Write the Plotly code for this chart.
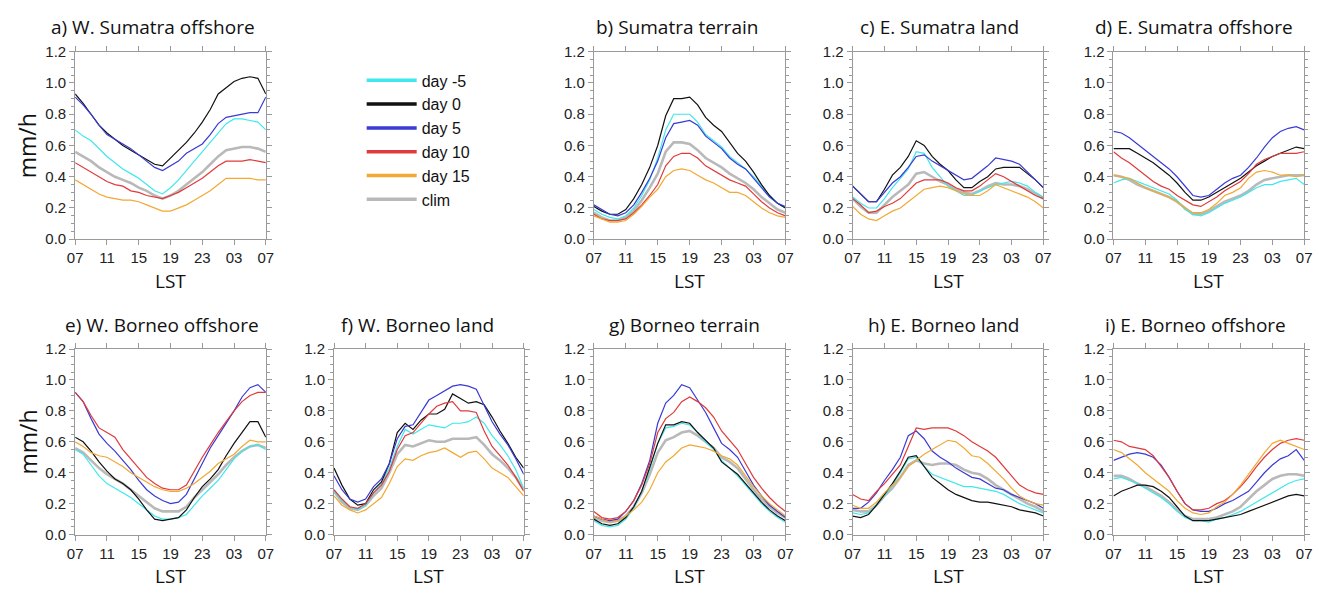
import plotly.graph_objects as go

# ---------------- data ----------------
hours = list(range(25))                      # 07 LST .. 07 LST next day
tick_vals = [0, 4, 8, 12, 16, 20, 24]
tick_text = ["07", "11", "15", "19", "23", "03", "07"]
y_ticks = [0.0, 0.2, 0.4, 0.6, 0.8, 1.0, 1.2]
y_tick_text = ["0.0", "0.2", "0.4", "0.6", "0.8", "1.0", "1.2"]

series_names = ["day -5", "day 0", "day 5", "day 10", "day 15", "clim"]
series_colors = ["#3ee8ec", "#111111", "#3a3ad6", "#e03a3a", "#f2a833", "#b9b9b9"]

panel_titles = ["a) W. Sumatra offshore", "b) Sumatra terrain", "c) E. Sumatra land",
                "d) E. Sumatra offshore", "e) W. Borneo offshore", "f) W. Borneo land",
                "g) Borneo terrain", "h) E. Borneo land", "i) E. Borneo offshore"]

# a) W. Sumatra offshore
a_dm5 = [0.70, 0.66, 0.63, 0.58, 0.53, 0.49, 0.45, 0.42, 0.39, 0.35, 0.31, 0.29, 0.33, 0.38, 0.44, 0.50, 0.56, 0.62, 0.68, 0.74, 0.77, 0.77, 0.76, 0.75, 0.70]
a_d0 = [0.93, 0.87, 0.80, 0.73, 0.68, 0.64, 0.60, 0.57, 0.54, 0.51, 0.48, 0.47, 0.52, 0.57, 0.62, 0.68, 0.75, 0.83, 0.93, 0.97, 1.01, 1.03, 1.04, 1.03, 0.93]
a_d5 = [0.91, 0.86, 0.80, 0.73, 0.67, 0.64, 0.61, 0.58, 0.54, 0.50, 0.46, 0.44, 0.47, 0.50, 0.55, 0.58, 0.61, 0.67, 0.74, 0.78, 0.79, 0.80, 0.81, 0.81, 0.91]
a_d10 = [0.49, 0.46, 0.43, 0.40, 0.37, 0.35, 0.34, 0.31, 0.30, 0.28, 0.27, 0.26, 0.28, 0.30, 0.33, 0.36, 0.39, 0.43, 0.47, 0.50, 0.50, 0.50, 0.51, 0.50, 0.49]
a_d15 = [0.38, 0.35, 0.32, 0.29, 0.27, 0.26, 0.25, 0.25, 0.24, 0.22, 0.20, 0.18, 0.18, 0.20, 0.22, 0.25, 0.28, 0.31, 0.35, 0.39, 0.39, 0.39, 0.39, 0.38, 0.38]
a_clim = [0.56, 0.53, 0.50, 0.46, 0.43, 0.40, 0.38, 0.36, 0.33, 0.31, 0.28, 0.26, 0.28, 0.31, 0.35, 0.39, 0.43, 0.48, 0.53, 0.57, 0.58, 0.59, 0.59, 0.58, 0.56]

# b) Sumatra terrain
b_dm5 = [0.19, 0.16, 0.14, 0.13, 0.15, 0.20, 0.28, 0.38, 0.52, 0.70, 0.80, 0.80, 0.80, 0.75, 0.67, 0.63, 0.59, 0.53, 0.49, 0.45, 0.40, 0.34, 0.28, 0.23, 0.20]
b_d0 = [0.21, 0.18, 0.16, 0.16, 0.19, 0.26, 0.35, 0.46, 0.60, 0.79, 0.90, 0.90, 0.91, 0.86, 0.78, 0.73, 0.69, 0.62, 0.55, 0.50, 0.43, 0.35, 0.28, 0.23, 0.20]
b_d5 = [0.22, 0.19, 0.16, 0.15, 0.17, 0.22, 0.30, 0.39, 0.50, 0.65, 0.74, 0.75, 0.76, 0.73, 0.66, 0.62, 0.58, 0.52, 0.48, 0.45, 0.39, 0.33, 0.27, 0.23, 0.21]
b_d10 = [0.16, 0.13, 0.12, 0.12, 0.13, 0.17, 0.22, 0.28, 0.35, 0.47, 0.53, 0.55, 0.55, 0.52, 0.47, 0.44, 0.41, 0.38, 0.36, 0.34, 0.29, 0.24, 0.20, 0.17, 0.15]
b_d15 = [0.15, 0.13, 0.11, 0.11, 0.12, 0.16, 0.21, 0.27, 0.32, 0.40, 0.44, 0.45, 0.44, 0.41, 0.38, 0.36, 0.33, 0.30, 0.30, 0.28, 0.24, 0.20, 0.17, 0.15, 0.14]
b_clim = [0.17, 0.14, 0.12, 0.12, 0.14, 0.18, 0.25, 0.33, 0.42, 0.56, 0.62, 0.62, 0.61, 0.57, 0.52, 0.49, 0.46, 0.42, 0.39, 0.36, 0.32, 0.27, 0.23, 0.19, 0.17]

# c) E. Sumatra land
c_dm5 = [0.27, 0.23, 0.20, 0.20, 0.26, 0.33, 0.39, 0.45, 0.56, 0.55, 0.46, 0.40, 0.34, 0.31, 0.28, 0.28, 0.31, 0.33, 0.35, 0.36, 0.37, 0.36, 0.34, 0.30, 0.27]
c_d0 = [0.34, 0.29, 0.24, 0.24, 0.32, 0.41, 0.46, 0.53, 0.63, 0.60, 0.53, 0.48, 0.44, 0.38, 0.33, 0.33, 0.37, 0.40, 0.45, 0.46, 0.46, 0.46, 0.42, 0.38, 0.33]
c_d5 = [0.34, 0.29, 0.24, 0.24, 0.30, 0.36, 0.40, 0.46, 0.53, 0.54, 0.50, 0.47, 0.44, 0.41, 0.38, 0.39, 0.43, 0.47, 0.52, 0.51, 0.50, 0.48, 0.43, 0.38, 0.33]
c_d10 = [0.26, 0.22, 0.17, 0.18, 0.21, 0.23, 0.26, 0.31, 0.36, 0.38, 0.38, 0.38, 0.36, 0.33, 0.31, 0.31, 0.34, 0.38, 0.42, 0.40, 0.37, 0.34, 0.31, 0.28, 0.26]
c_d15 = [0.21, 0.16, 0.13, 0.12, 0.15, 0.18, 0.20, 0.24, 0.28, 0.32, 0.33, 0.34, 0.33, 0.31, 0.29, 0.28, 0.28, 0.31, 0.35, 0.33, 0.31, 0.29, 0.27, 0.24, 0.20]
c_clim = [0.26, 0.21, 0.17, 0.17, 0.22, 0.27, 0.31, 0.35, 0.42, 0.43, 0.40, 0.37, 0.35, 0.32, 0.30, 0.29, 0.31, 0.34, 0.36, 0.35, 0.35, 0.34, 0.32, 0.29, 0.26]

# d) E. Sumatra offshore
d_dm5 = [0.36, 0.38, 0.39, 0.37, 0.35, 0.33, 0.31, 0.29, 0.25, 0.19, 0.16, 0.15, 0.17, 0.20, 0.23, 0.25, 0.27, 0.30, 0.33, 0.35, 0.35, 0.37, 0.38, 0.39, 0.35]
d_d0 = [0.58, 0.58, 0.58, 0.55, 0.52, 0.49, 0.45, 0.41, 0.36, 0.30, 0.25, 0.25, 0.27, 0.30, 0.33, 0.36, 0.39, 0.43, 0.47, 0.50, 0.53, 0.55, 0.57, 0.59, 0.58]
d_d5 = [0.69, 0.68, 0.65, 0.61, 0.57, 0.53, 0.49, 0.45, 0.40, 0.34, 0.28, 0.27, 0.28, 0.32, 0.36, 0.39, 0.41, 0.46, 0.52, 0.59, 0.65, 0.69, 0.71, 0.72, 0.70]
d_d10 = [0.56, 0.52, 0.49, 0.45, 0.41, 0.37, 0.34, 0.32, 0.28, 0.25, 0.22, 0.21, 0.24, 0.27, 0.31, 0.34, 0.37, 0.42, 0.48, 0.51, 0.53, 0.55, 0.55, 0.55, 0.56]
d_d15 = [0.41, 0.40, 0.39, 0.36, 0.33, 0.31, 0.29, 0.27, 0.24, 0.20, 0.17, 0.17, 0.19, 0.23, 0.28, 0.30, 0.33, 0.39, 0.43, 0.44, 0.43, 0.41, 0.41, 0.40, 0.41]
d_clim = [0.41, 0.40, 0.38, 0.35, 0.33, 0.31, 0.29, 0.27, 0.24, 0.20, 0.16, 0.16, 0.18, 0.21, 0.24, 0.26, 0.28, 0.31, 0.35, 0.38, 0.39, 0.40, 0.41, 0.41, 0.41]

# e) W. Borneo offshore
e_dm5 = [0.55, 0.52, 0.45, 0.38, 0.33, 0.30, 0.27, 0.24, 0.20, 0.16, 0.12, 0.10, 0.10, 0.11, 0.13, 0.19, 0.25, 0.30, 0.35, 0.42, 0.49, 0.54, 0.57, 0.58, 0.55]
e_d0 = [0.63, 0.60, 0.54, 0.47, 0.41, 0.36, 0.33, 0.29, 0.23, 0.16, 0.10, 0.09, 0.10, 0.11, 0.16, 0.24, 0.31, 0.36, 0.42, 0.51, 0.59, 0.66, 0.73, 0.73, 0.63]
e_d5 = [0.92, 0.86, 0.75, 0.65, 0.59, 0.54, 0.48, 0.42, 0.35, 0.29, 0.25, 0.22, 0.20, 0.21, 0.26, 0.36, 0.47, 0.56, 0.64, 0.72, 0.80, 0.89, 0.95, 0.97, 0.92]
e_d10 = [0.92, 0.86, 0.77, 0.69, 0.66, 0.63, 0.55, 0.49, 0.43, 0.37, 0.33, 0.30, 0.29, 0.29, 0.32, 0.41, 0.50, 0.58, 0.66, 0.73, 0.80, 0.86, 0.90, 0.92, 0.92]
e_d15 = [0.60, 0.57, 0.53, 0.51, 0.50, 0.47, 0.44, 0.40, 0.37, 0.34, 0.31, 0.29, 0.28, 0.28, 0.30, 0.33, 0.37, 0.41, 0.46, 0.49, 0.52, 0.57, 0.61, 0.60, 0.60]
e_clim = [0.56, 0.53, 0.48, 0.43, 0.39, 0.36, 0.33, 0.29, 0.25, 0.21, 0.17, 0.15, 0.15, 0.15, 0.18, 0.24, 0.29, 0.34, 0.39, 0.45, 0.50, 0.54, 0.57, 0.58, 0.56]

# f) W. Borneo land
f_dm5 = [0.28, 0.22, 0.18, 0.16, 0.19, 0.27, 0.33, 0.43, 0.57, 0.68, 0.65, 0.68, 0.71, 0.70, 0.69, 0.72, 0.72, 0.73, 0.76, 0.72, 0.64, 0.58, 0.51, 0.42, 0.30]
f_d0 = [0.43, 0.32, 0.23, 0.19, 0.20, 0.29, 0.34, 0.46, 0.66, 0.72, 0.68, 0.74, 0.78, 0.78, 0.81, 0.91, 0.88, 0.85, 0.86, 0.84, 0.76, 0.67, 0.59, 0.50, 0.43]
f_d5 = [0.38, 0.29, 0.23, 0.21, 0.23, 0.31, 0.36, 0.46, 0.62, 0.70, 0.71, 0.79, 0.87, 0.90, 0.93, 0.96, 0.97, 0.96, 0.94, 0.84, 0.73, 0.65, 0.58, 0.49, 0.39]
f_d10 = [0.29, 0.23, 0.18, 0.17, 0.20, 0.27, 0.32, 0.41, 0.55, 0.64, 0.66, 0.72, 0.78, 0.83, 0.85, 0.86, 0.80, 0.80, 0.79, 0.67, 0.57, 0.51, 0.45, 0.37, 0.28]
f_d15 = [0.25, 0.19, 0.16, 0.14, 0.16, 0.20, 0.24, 0.33, 0.44, 0.49, 0.48, 0.51, 0.53, 0.54, 0.56, 0.53, 0.50, 0.53, 0.54, 0.49, 0.43, 0.40, 0.37, 0.31, 0.25]
f_clim = [0.28, 0.21, 0.17, 0.16, 0.19, 0.25, 0.30, 0.40, 0.52, 0.58, 0.57, 0.59, 0.61, 0.60, 0.60, 0.62, 0.62, 0.62, 0.63, 0.58, 0.52, 0.48, 0.43, 0.37, 0.29]

# g) Borneo terrain
g_dm5 = [0.09, 0.06, 0.05, 0.06, 0.10, 0.17, 0.28, 0.42, 0.59, 0.69, 0.70, 0.72, 0.71, 0.66, 0.60, 0.55, 0.48, 0.43, 0.38, 0.32, 0.26, 0.20, 0.15, 0.11, 0.08]
g_d0 = [0.10, 0.07, 0.06, 0.07, 0.11, 0.18, 0.28, 0.43, 0.59, 0.71, 0.71, 0.73, 0.72, 0.66, 0.61, 0.56, 0.47, 0.43, 0.39, 0.33, 0.27, 0.21, 0.16, 0.12, 0.09]
g_d5 = [0.12, 0.10, 0.09, 0.10, 0.15, 0.22, 0.33, 0.48, 0.72, 0.85, 0.90, 0.97, 0.95, 0.87, 0.79, 0.69, 0.59, 0.55, 0.50, 0.41, 0.32, 0.25, 0.19, 0.15, 0.11]
g_d10 = [0.15, 0.11, 0.10, 0.11, 0.15, 0.22, 0.32, 0.46, 0.66, 0.75, 0.79, 0.86, 0.89, 0.86, 0.82, 0.76, 0.67, 0.61, 0.55, 0.46, 0.37, 0.30, 0.24, 0.19, 0.15]
g_d15 = [0.12, 0.10, 0.08, 0.09, 0.12, 0.16, 0.21, 0.29, 0.40, 0.47, 0.51, 0.56, 0.58, 0.57, 0.56, 0.54, 0.51, 0.49, 0.45, 0.38, 0.31, 0.25, 0.20, 0.16, 0.12]
g_clim = [0.11, 0.09, 0.08, 0.09, 0.12, 0.18, 0.27, 0.39, 0.53, 0.61, 0.63, 0.66, 0.67, 0.64, 0.60, 0.56, 0.50, 0.47, 0.43, 0.36, 0.29, 0.23, 0.18, 0.14, 0.11]

# h) E. Borneo land
h_dm5 = [0.14, 0.13, 0.14, 0.19, 0.25, 0.32, 0.40, 0.49, 0.50, 0.44, 0.39, 0.37, 0.35, 0.33, 0.31, 0.31, 0.30, 0.29, 0.28, 0.26, 0.23, 0.20, 0.18, 0.16, 0.14]
h_d0 = [0.12, 0.11, 0.13, 0.19, 0.26, 0.33, 0.41, 0.50, 0.51, 0.44, 0.37, 0.33, 0.29, 0.26, 0.24, 0.22, 0.21, 0.21, 0.20, 0.19, 0.18, 0.16, 0.15, 0.14, 0.12]
h_d5 = [0.17, 0.17, 0.21, 0.27, 0.35, 0.42, 0.50, 0.64, 0.67, 0.62, 0.54, 0.50, 0.47, 0.43, 0.40, 0.37, 0.36, 0.33, 0.30, 0.29, 0.26, 0.24, 0.22, 0.20, 0.17]
h_d10 = [0.26, 0.23, 0.22, 0.28, 0.33, 0.39, 0.45, 0.57, 0.69, 0.68, 0.69, 0.69, 0.69, 0.67, 0.64, 0.60, 0.57, 0.54, 0.50, 0.44, 0.38, 0.32, 0.29, 0.27, 0.26]
h_d15 = [0.19, 0.17, 0.17, 0.21, 0.27, 0.32, 0.37, 0.44, 0.48, 0.52, 0.55, 0.58, 0.61, 0.60, 0.56, 0.51, 0.50, 0.46, 0.41, 0.36, 0.30, 0.25, 0.22, 0.20, 0.19]
h_clim = [0.16, 0.15, 0.15, 0.19, 0.25, 0.30, 0.37, 0.45, 0.48, 0.46, 0.45, 0.46, 0.46, 0.45, 0.42, 0.40, 0.39, 0.36, 0.32, 0.29, 0.26, 0.23, 0.20, 0.18, 0.15]

# i) E. Borneo offshore
i_dm5 = [0.36, 0.37, 0.35, 0.33, 0.30, 0.27, 0.24, 0.20, 0.15, 0.11, 0.09, 0.09, 0.08, 0.10, 0.11, 0.13, 0.15, 0.18, 0.21, 0.24, 0.27, 0.30, 0.33, 0.35, 0.36]
i_d0 = [0.25, 0.28, 0.30, 0.32, 0.32, 0.31, 0.28, 0.24, 0.18, 0.12, 0.09, 0.09, 0.09, 0.10, 0.11, 0.12, 0.13, 0.15, 0.17, 0.19, 0.21, 0.23, 0.25, 0.26, 0.25]
i_d5 = [0.48, 0.50, 0.52, 0.53, 0.52, 0.50, 0.45, 0.37, 0.28, 0.20, 0.16, 0.15, 0.15, 0.17, 0.20, 0.22, 0.25, 0.28, 0.34, 0.40, 0.45, 0.49, 0.51, 0.55, 0.48]
i_d10 = [0.61, 0.60, 0.57, 0.56, 0.55, 0.51, 0.44, 0.37, 0.28, 0.20, 0.16, 0.16, 0.17, 0.20, 0.22, 0.26, 0.31, 0.37, 0.44, 0.50, 0.55, 0.59, 0.61, 0.62, 0.61]
i_d15 = [0.55, 0.53, 0.49, 0.45, 0.40, 0.36, 0.32, 0.28, 0.22, 0.17, 0.14, 0.13, 0.14, 0.18, 0.21, 0.26, 0.32, 0.39, 0.46, 0.53, 0.59, 0.61, 0.59, 0.57, 0.55]
i_clim = [0.38, 0.38, 0.36, 0.33, 0.31, 0.28, 0.25, 0.21, 0.16, 0.12, 0.10, 0.10, 0.10, 0.11, 0.13, 0.15, 0.18, 0.23, 0.28, 0.32, 0.36, 0.38, 0.39, 0.39, 0.38]

panels = [
    [a_dm5, a_d0, a_d5, a_d10, a_d15, a_clim],
    [b_dm5, b_d0, b_d5, b_d10, b_d15, b_clim],
    [c_dm5, c_d0, c_d5, c_d10, c_d15, c_clim],
    [d_dm5, d_d0, d_d5, d_d10, d_d15, d_clim],
    [e_dm5, e_d0, e_d5, e_d10, e_d15, e_clim],
    [f_dm5, f_d0, f_d5, f_d10, f_d15, f_clim],
    [g_dm5, g_d0, g_d5, g_d10, g_d15, g_clim],
    [h_dm5, h_d0, h_d5, h_d10, h_d15, h_clim],
    [i_dm5, i_d0, i_d5, i_d10, i_d15, i_clim],
]

# ---------------- layout geometry (pixels) ----------------
W, H = 1325, 597
col_px = [(68, 261), (330, 522), (593, 787), (855, 1048), (1119, 1312)]
row_px = [(44, 237), (350, 541)]
panel_cell = [(0, 0), (0, 2), (0, 3), (0, 4), (1, 0), (1, 1), (1, 2), (1, 3), (1, 4)]
title_cx = [147, 677, 943, 1201, 156, 414, 685, 947, 1202]
title_cy = [19, 19, 19, 19, 325, 325, 325, 325, 325]

TITLE_FONT = "Open Sans"
TICK_FONT = "Liberation Sans"
AX_COLOR = "#9a9a9a"

fig = go.Figure()
annotations = []
layout = {}

draw_order = [5, 0, 1, 2, 3, 4]
for p, data in enumerate(panels):
    r, c = panel_cell[p]
    x0, x1 = col_px[c]
    y0, y1 = row_px[r]
    n = p + 1
    xa = "x" if n == 1 else f"x{n}"
    ya = "y" if n == 1 else f"y{n}"
    for s in draw_order:
        fig.add_trace(go.Scatter(
            x=hours, y=data[s], mode="lines", xaxis=xa, yaxis=ya,
            line=dict(color=series_colors[s], width=2.6 if s == 5 else 1.2),
            showlegend=False, hoverinfo="skip"))
    layout["xaxis" if n == 1 else f"xaxis{n}"] = dict(
        domain=[x0 / W, x1 / W], anchor=ya, range=[0, 24],
        tickvals=tick_vals, ticktext=tick_text, ticks="outside", ticklen=5,
        tickcolor=AX_COLOR, showline=True, linecolor=AX_COLOR, linewidth=1,
        mirror="ticks", showgrid=False, zeroline=False,
        tickfont=dict(family=TICK_FONT, size=15, color="#222"))
    layout["yaxis" if n == 1 else f"yaxis{n}"] = dict(
        domain=[1 - y1 / H, 1 - y0 / H], anchor=xa, range=[0, 1.2],
        tickvals=y_ticks, ticktext=y_tick_text, ticks="outside", ticklen=5,
        tickcolor=AX_COLOR, showline=True, linecolor=AX_COLOR, linewidth=1,
        mirror="ticks", showgrid=False, zeroline=False,
        minor=dict(dtick=0.05, ticks="outside", ticklen=3, tickcolor=AX_COLOR, showgrid=False),
        tickfont=dict(family=TICK_FONT, size=15, color="#222"))
    annotations.append(dict(
        text=panel_titles[p], x=title_cx[p] / W, y=1 - title_cy[p] / H,
        xref="paper", yref="paper", xanchor="center", yanchor="middle",
        showarrow=False, font=dict(family=TITLE_FONT, size=19, color="#111")))
    annotations.append(dict(
        text="LST", x=((x0 + x1) / 2) / W, y=1 - (y1 + 43) / H,
        xref="paper", yref="paper", xanchor="center", yanchor="middle",
        showarrow=False, font=dict(family=TITLE_FONT, size=19, color="#111")))
    if c == 0:
        annotations.append(dict(
            text="mm/h", x=20 / W, y=1 - ((y0 + y1) / 2) / H,
            xref="paper", yref="paper", xanchor="center", yanchor="middle",
            textangle=-90, showarrow=False,
            font=dict(family=TITLE_FONT, size=23, color="#111")))

# legend entries (thick lines)
for s in range(6):
    fig.add_trace(go.Scatter(
        x=[None], y=[None], mode="lines", name=series_names[s],
        line=dict(color=series_colors[s], width=3.5), showlegend=True,
        xaxis="x", yaxis="y"))

fig.update_layout(
    width=W, height=H, margin=dict(l=0, r=0, t=0, b=0),
    paper_bgcolor="white", plot_bgcolor="white",
    annotations=annotations,
    legend=dict(x=358 / W, y=1 - 56 / H, xanchor="left", yanchor="top",
                font=dict(family=TICK_FONT, size=16, color="#111"),
                itemwidth=50, tracegroupgap=0, bgcolor="rgba(0,0,0,0)"),
    **layout)

fig.write_html("out.html")
